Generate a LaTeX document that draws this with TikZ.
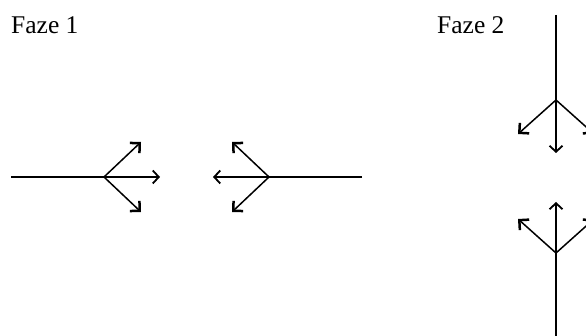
\documentclass[tikz,border=0pt]{standalone}
\usepackage{fontspec}
\setmainfont{Liberation Serif}
\usepackage{tikz}
\usetikzlibrary{arrows.meta,positioning,calc}
\tikzset{
  label/.style={inner sep=0pt, anchor=base west, font=\fontsize{25.5}{30}\selectfont},
  stem/.style={line width=1.8pt},
  line/.style={-{Straight Barb[length=6pt, width=13pt, line width=1.8pt]}, line width=1.8pt},
  slant/.style={-{Straight Barb[length=7pt, width=14pt, line width=2.5pt]}, line width=1.5pt}
}
\begin{document}
\begin{tikzpicture}[x=1pt, y=1pt]
  \useasboundingbox (0,0) rectangle (586,336);
  \node[label] (f1) at (11,302) {Faze 1};
  \node[label] (f2) at (437,302) {Faze 2};
  % Faze 1
  \coordinate (a0) at (11,159);
  \coordinate (a) at (104,159);
  \coordinate (a1) at (160,159);
  \coordinate (a2) at (141,194);
  \coordinate (a3) at (141,124);
  \draw[stem] (a0) -- (a);
  \draw[line] (a) -- (a1);
  \draw[slant] (a) -- (a2);
  \draw[slant] (a) -- (a3);
  \coordinate (b0) at (362,159);
  \coordinate (b) at (269,159);
  \coordinate (b1) at (213,159);
  \coordinate (b2) at (232,194);
  \coordinate (b3) at (232,124);
  \draw[stem] (b0) -- (b);
  \draw[line] (b) -- (b1);
  \draw[slant] (b) -- (b2);
  \draw[slant] (b) -- (b3);
  % Faze 2
  \coordinate (c0) at (556,321);
  \coordinate (c) at (556,236);
  \coordinate (c1) at (556,183);
  \coordinate (c2) at (518,202);
  \coordinate (c3) at (594,202);
  \draw[stem] (c0) -- (c);
  \draw[line] (c) -- (c1);
  \draw[slant] (c) -- (c2);
  \draw[slant] (c) -- (c3);
  \coordinate (d0) at (556,0);
  \coordinate (d) at (556,83);
  \coordinate (d1) at (556,134);
  \coordinate (d2) at (518,117);
  \coordinate (d3) at (594,117);
  \draw[stem] (d0) -- (d);
  \draw[line] (d) -- (d1);
  \draw[slant] (d) -- (d2);
  \draw[slant] (d) -- (d3);
\end{tikzpicture}
\end{document}
